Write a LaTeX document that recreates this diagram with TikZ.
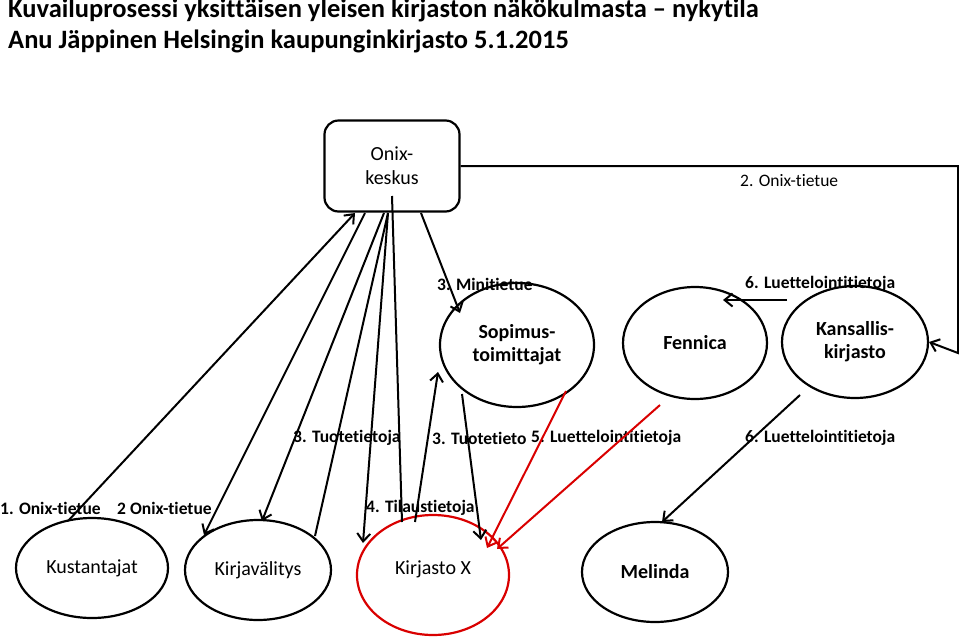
\documentclass[tikz,border=0pt]{standalone}
\usepackage{fontspec}
\setmainfont{Carlito}[Ligatures=NoCommon]
\usetikzlibrary{arrows.meta,shapes.geometric}
\begin{document}
\begin{tikzpicture}[x=1pt,y=-1pt,
  ell/.style={draw,line width=2.2pt,ellipse,minimum width=150pt,minimum height=106pt,inner sep=0pt,align=center,font=\fontsize{20}{23}\selectfont\bfseries},
  lab/.style={anchor=west,inner sep=0pt,font=\fontsize{17.5}{20}\selectfont\bfseries},
  arr/.style={line width=2pt,-{Straight Barb[length=8pt,width=13pt]}},
  ln/.style={line width=2pt},
  red arr/.style={arr,draw=red!85!black}]
\useasboundingbox (0,0) rectangle (959,638);
\node[anchor=north west,inner sep=0pt,align=left,font=\fontsize{26.5}{31}\selectfont\bfseries] (title) at (8,-1)
 {Kuvailuprosessi yksittäisen yleisen kirjaston näkökulmasta – nykytila\\Anu Jäppinen Helsingin kaupunginkirjasto 5.1.2015};
\node[draw,line width=2.2pt,rounded corners=14pt,minimum width=135pt,minimum height=91pt,align=center,font=\fontsize{20}{24}\selectfont] (onix) at (392,166) {Onix-\\keskus};
\node[ell,minimum width=154pt,minimum height=124pt] (sop) at (517,345) {Sopimus-\\toimittajat};
\node[ell,minimum width=144pt,minimum height=112pt] (fen) at (695,343) {Fennica};
\node[ell,minimum width=146pt,minimum height=112pt] (kan) at (855,342) {Kansallis-\\kirjasto};
\node[ell,minimum width=152pt,minimum height=100pt] (kus) at (92,568) {\mdseries Kustantajat};
\node[ell,minimum width=146pt,minimum height=100pt] (kir) at (258,570) {\mdseries Kirjavälitys};
\node[ell,draw=red!85!black,minimum width=152pt,minimum height=120pt] (kx) at (433,575) {\raisebox{14pt}{\mdseries Kirjasto X}};
\node[ell,minimum width=146pt,minimum height=100pt] (mel) at (655,572) {Melinda};
% labels
\node[lab,font=\fontsize{17.5}{20}\selectfont] (l2) at (740,181) {2. Onix-tietue};
\node[lab] (l3m) at (437,284) {3. Minitietue};
\node[lab] (l6a) at (745,284) {6. Luettelointitietoja};
\node[lab] (l3a) at (293,438) {3. Tuotetietoja};
\node[lab] (l3b) at (432,438) {3. Tuotetieto};
\node[lab,fill=white] (l5) at (531,438) {5. Luettelointitietoja};
\node[lab] (l6b) at (745,438) {6. Luettelointitietoja};
\node[lab] (l1) at (0,508) {1. Onix-tietue};
\node[lab] (l2b) at (117,508) {2 Onix-tietue};
\node[lab] (l4) at (366,508) {4. Tilaustietoja};
% connectors
\draw[arr] (68,521) -- (355,213);
\draw[arr] (365,213) -- (204,535);
\draw[arr] (384,213) -- (262,521);
\draw[ln] (315,536) -- (388,213);
\draw[arr] (388,213) -- (363,543);
\draw[ln] (402,522) -- (392,196);
\draw[arr] (415,522) -- (438,372);
\draw[arr] (462,394) -- (481,540);
\draw[arr] (421,213) -- (460,313);
\draw[red arr] (566,391) -- (487,548);
\draw[red arr] (660,405) -- (497,549);
\draw[arr] (800,395) -- (662,522);
\draw[arr] (787,300) -- (723,300);
\draw[arr] (onix.east) -- (958,166) -- (958,353) -- (kan.east);
\end{tikzpicture}
\end{document}
